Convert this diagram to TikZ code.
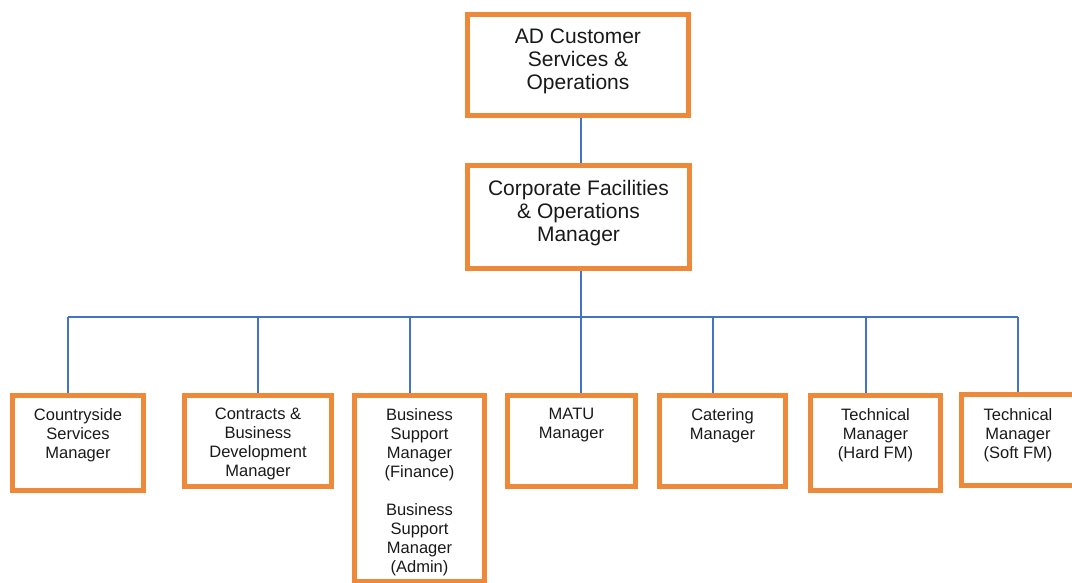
\documentclass[tikz,border=0pt]{standalone}
\usepackage{fontspec}
\setmainfont{Liberation Sans}
\usetikzlibrary{backgrounds}
\definecolor{boxline}{RGB}{237,137,57}
\definecolor{linkline}{RGB}{68,114,196}
\definecolor{ink}{RGB}{25,25,25}
\begin{document}
\begin{tikzpicture}[x=1pt,y=-1pt,
  orgbox/.style={draw=boxline, line width=5pt, inner sep=0pt, outer sep=0pt, anchor=north west},
  headtext/.style={font=\fontsize{21}{23}\selectfont, align=center, text=ink, inner sep=0pt},
  stafftext/.style={font=\fontsize{16.5}{19}\selectfont, align=center, text=ink, inner sep=0pt, anchor=north},
  link/.style={draw=linkline, line width=2pt}
]
\useasboundingbox (0,0) rectangle (1072,583);

% senior posts
\node[orgbox, minimum width=221pt, minimum height=101pt] (top) at (467.5,14.5) {};
\node[orgbox, minimum width=222pt, minimum height=103pt] (mid) at (467.5,165.5) {};
\node[headtext] (top-t) at ([yshift=4pt]top.center) {AD Customer\\Services \&\\Operations};
\node[headtext] (mid-t) at ([yshift=3.5pt]mid.center) {Corporate Facilities\\\& Operations\\Manager};

% managers reporting to the facilities manager
\node[orgbox, minimum width=131pt, minimum height=95pt]  (cs)   at (12.5,395.5) {};
\node[orgbox, minimum width=147pt, minimum height=91pt]  (cbd)  at (184.5,395.5) {};
\node[orgbox, minimum width=130pt, minimum height=186pt] (bsm)  at (354.5,395.5) {};
\node[orgbox, minimum width=128pt, minimum height=91pt]  (matu) at (507.5,395.5) {};
\node[orgbox, minimum width=126pt, minimum height=91pt]  (cat)  at (659.5,395.5) {};
\node[orgbox, minimum width=130pt, minimum height=95pt]  (thm)  at (810.5,395.5) {};
\node[orgbox, minimum width=113pt, minimum height=91pt]  (tsm)  at (961.5,394.5) {};

\node[stafftext] (cs-t)   at ([yshift=-12.5pt]cs.north)   {Countryside\\Services\\Manager};
\node[stafftext] (cbd-t)  at ([yshift=-12.5pt]cbd.north)  {Contracts \&\\Business\\Development\\Manager};
\node[stafftext] (bsm-t)  at ([yshift=-13pt]bsm.north)    {Business\\Support\\Manager\\(Finance)\\[19pt]Business\\Support\\Manager\\(Admin)};
\node[stafftext] (matu-t) at ([yshift=-12.5pt]matu.north) {MATU\\Manager};
\node[stafftext] (cat-t)  at ([yshift=-12.5pt]cat.north)  {Catering\\Manager};
\node[stafftext] (thm-t)  at ([yshift=-12.5pt]thm.north)  {Technical\\Manager\\(Hard FM)};
\node[stafftext] (tsm-t)  at ([yshift=-13.5pt]tsm.north)  {Technical\\Manager\\(Soft FM)};

% reporting lines
\coordinate (hub) at (581,317);
\coordinate (d1) at (68,317);
\coordinate (d2) at (258,317);
\coordinate (d3) at (410,317);
\coordinate (d4) at (581,317);
\coordinate (d5) at (713,317);
\coordinate (d6) at (866,317);
\coordinate (d7) at (1018,317);

\begin{scope}[on background layer]
  \draw[link] (top.south -| hub) -- (mid.north -| hub);
  \draw[link] (mid.south -| hub) -- (hub);
  \draw[link] (d1) -- (d7);
  \draw[link] (d1) -- (d1 |- cs.north);
  \draw[link] (d2) -- (d2 |- cbd.north);
  \draw[link] (d3) -- (d3 |- bsm.north);
  \draw[link] (d4) -- (d4 |- matu.north);
  \draw[link] (d5) -- (d5 |- cat.north);
  \draw[link] (d6) -- (d6 |- thm.north);
  \draw[link] (d7) -- (d7 |- tsm.north);
\end{scope}
\end{tikzpicture}
\end{document}
